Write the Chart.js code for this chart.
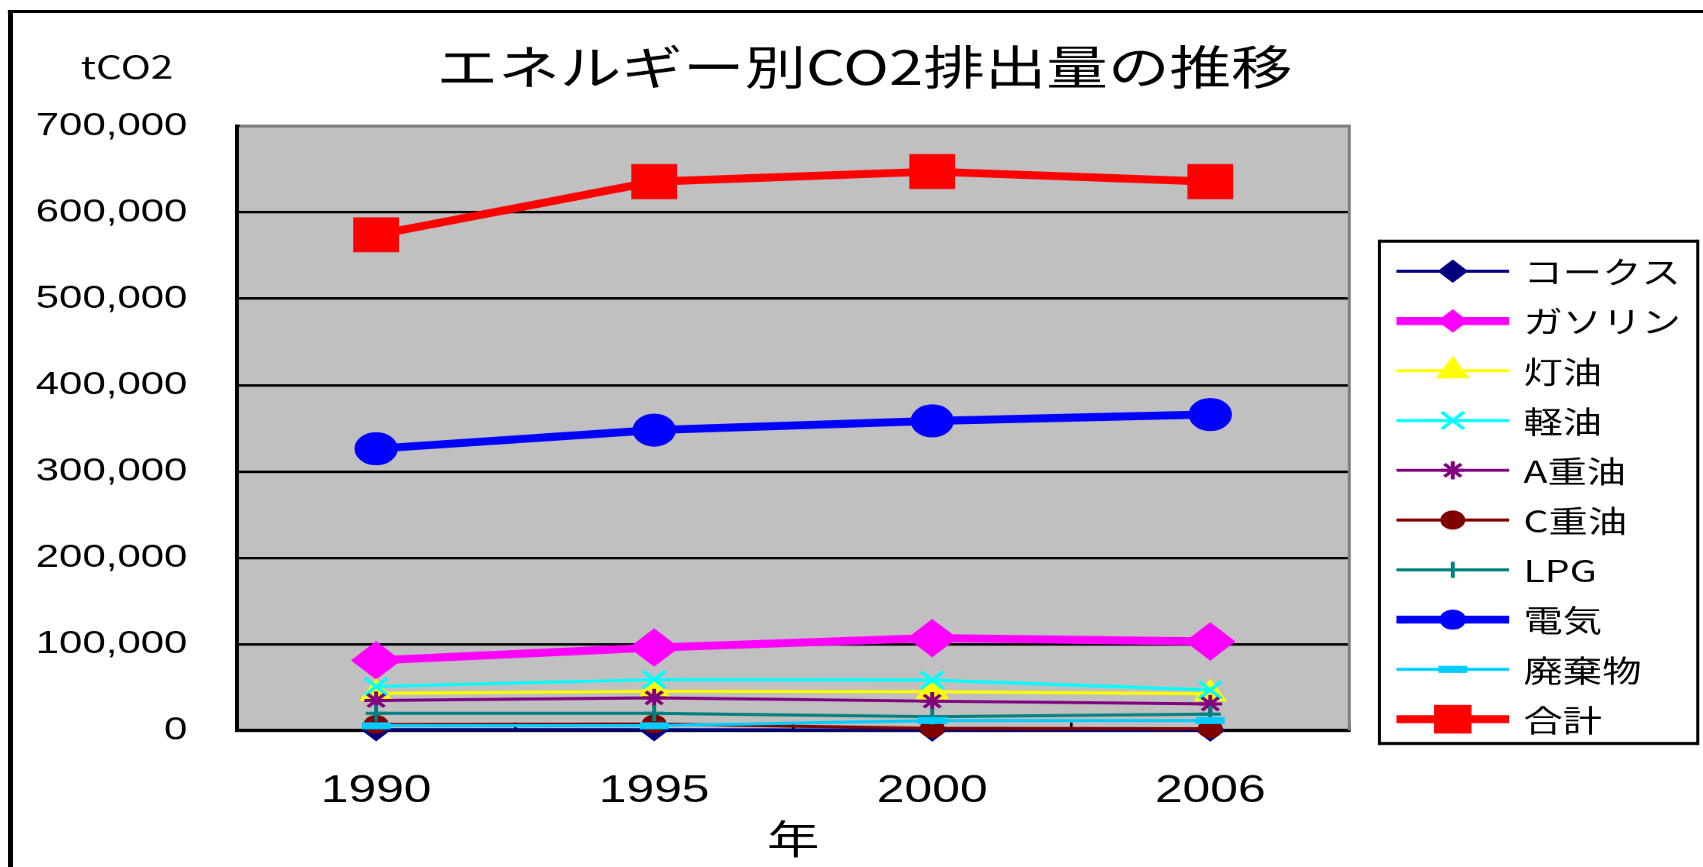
<!DOCTYPE html>
<html lang="ja">
<head>
<meta charset="utf-8">
<script src="https://cdn.jsdelivr.net/npm/chart.js@4.4.1/dist/chart.umd.min.js"></script>
<style>
  html, body { margin: 0; padding: 0; background: #fff; overflow: hidden; }
  #wrap { width: 1703px; height: 867px; overflow: hidden; }
  /* the chart is laid out narrow and widened horizontally */
  #chart { transform: scaleX(1.31); transform-origin: 0 0; }
</style>
</head>
<body>
<div id="wrap"><canvas id="chart" width="1300" height="867"></canvas></div>
<script>
// categories (years)
const years = ['1990', '1995', '2000', '2006'];

// CO2 emissions by energy source, tCO2
const coke        = [1000, 1000, 500, 500];
const gasoline    = [81300, 96100, 107000, 103100];
const kerosene    = [43000, 45500, 45000, 42500];
const lightOil    = [51000, 59000, 58500, 47000];
const heavyOilA   = [34700, 37800, 34000, 30800];
const heavyOilC   = [7000, 7500, 2500, 2000];
const lpg         = [20000, 20000, 16000, 19000];
const electricity = [326400, 347900, 358600, 366000];
const waste       = [5500, 5500, 11500, 11500];
const total       = [574000, 635700, 647300, 635700];

// value axis labels
const yTickLabels = ['0', '100,000', '200,000', '300,000', '400,000', '500,000', '600,000', '700,000'];

const seriesNames = ['コークス', 'ガソリン', '灯油', '軽油', 'A重油', 'C重油', 'LPG', '電気', '廃棄物', '合計'];
const seriesData = [coke, gasoline, kerosene, lightOil, heavyOilA, heavyOilC, lpg, electricity, waste, total];

// drawing styles per series (same order as seriesNames)
const seriesStyles = [
  { color: '#000080', width: 3, point: 'rectRot',  r: 11,   pbw: 1, legendR: 11 },
  { color: '#FF00FF', width: 8, point: 'rectRot',  r: 18.5, pbw: 1, legendR: 11 },
  { color: '#FFFF00', width: 3, point: 'triangle', r: 14,   pbw: 1, legendR: 14 },
  { color: '#00FFFF', width: 3, point: 'crossRot', r: 12,   pbw: 3, legendR: 12 },
  { color: '#800080', width: 3, point: 'star',     r: 9,    pbw: 3, legendR: 9 },
  { color: '#800000', width: 3, point: 'circle',   r: 9,    pbw: 1, legendR: 9 },
  { color: '#008080', width: 3, point: 'cross',    r: 8,    pbw: 3, legendR: 8 },
  { color: '#0000FF', width: 8, point: 'circle',   r: 16,   pbw: 1, legendR: 9.5 },
  { color: '#00CCFF', width: 3, point: 'line',     r: 11,   pbw: 7, legendR: 11 },
  { color: '#FF0000', width: 8, point: 'rect',     r: 24,   pbw: 1, legendR: 19.5 }
];

const n = seriesNames.length;
const datasets = seriesNames.map((name, i) => {
  const s = seriesStyles[i];
  return {
    label: name,
    data: seriesData[i],
    borderColor: s.color,
    backgroundColor: s.color,
    borderWidth: s.width,
    pointStyle: s.point,
    pointRadius: s.r,
    pointHoverRadius: s.r,
    pointBorderWidth: s.pbw,
    pointBackgroundColor: s.color,
    pointBorderColor: s.color,
    tension: 0,
    clip: false,
    order: n - i
  };
});

const jpFont = '"Noto Sans CJK JP", "Noto Sans", sans-serif';
const numFont = '"Liberation Sans", Arial, sans-serif';

const decorations = {
  id: 'decorations',
  beforeDraw(chart) {
    const { ctx, chartArea: a } = chart;
    ctx.save();
    ctx.fillStyle = '#ffffff';
    ctx.fillRect(0, 0, chart.width, chart.height);
    // outer frame (left and top edges)
    ctx.strokeStyle = '#000';
    ctx.lineWidth = 3.8;
    ctx.beginPath();
    ctx.moveTo(8, chart.height + 10);
    ctx.lineTo(8, 10);
    ctx.stroke();
    ctx.lineWidth = 3;
    ctx.beginPath();
    ctx.moveTo(6, 11.5);
    ctx.lineTo(chart.width + 10, 11.5);
    ctx.stroke();
    // plot area background
    ctx.fillStyle = '#C0C0C0';
    ctx.fillRect(a.left, a.top, a.right - a.left, a.bottom - a.top);
    ctx.restore();
  },
  beforeDatasetsDraw(chart) {
    const { ctx, chartArea: a } = chart;
    ctx.save();
    ctx.strokeStyle = '#808080';
    ctx.lineWidth = 3;
    ctx.beginPath();
    ctx.moveTo(a.left + 2, a.top);
    ctx.lineTo(a.right, a.top);
    ctx.stroke();
    ctx.lineWidth = 2.3;
    ctx.beginPath();
    ctx.moveTo(a.right, a.top - 1.5);
    ctx.lineTo(a.right, a.bottom);
    ctx.stroke();
    ctx.restore();
  },
  afterDraw(chart) {
    const { ctx } = chart;
    ctx.save();
    ctx.fillStyle = '#000';
    ctx.textBaseline = 'middle';
    // chart title
    ctx.textAlign = 'center';
    ctx.font = '47px ' + jpFont;
    ctx.fillText('エネルギー別CO2排出量の推移', 660, 67);
    // unit label
    ctx.font = '31px ' + jpFont;
    ctx.fillText('tCO2', 97, 67);

    // legend box
    const lx = 1053, rx = 1296, ty = 241, by = 743;
    ctx.strokeStyle = '#000';
    ctx.lineWidth = 3;
    ctx.beginPath();
    ctx.moveTo(lx, ty); ctx.lineTo(rx, ty);
    ctx.moveTo(lx, by); ctx.lineTo(rx, by);
    ctx.stroke();
    ctx.lineWidth = 2.3;
    ctx.beginPath();
    ctx.moveTo(lx, ty - 1.5); ctx.lineTo(lx, by + 1.5);
    ctx.moveTo(rx, ty - 1.5); ctx.lineTo(rx, by + 1.5);
    ctx.stroke();

    ctx.textAlign = 'left';
    ctx.font = '30px ' + jpFont;
    chart.data.datasets.forEach((ds, i) => {
      const s = seriesStyles[i];
      const y = 271 + i * 49.74;
      ctx.strokeStyle = s.color;
      ctx.fillStyle = s.color;
      ctx.lineWidth = s.width;
      ctx.beginPath();
      ctx.moveTo(1066, y);
      ctx.lineTo(1152, y);
      ctx.stroke();
      ctx.lineWidth = s.pbw;
      Chart.helpers.drawPoint(ctx, { pointStyle: s.point, radius: s.legendR, borderWidth: s.pbw, rotation: 0 }, 1109, y);
      ctx.fillStyle = '#000';
      ctx.fillText(ds.label, 1163, y + 1);
    });
    ctx.restore();
  }
};

new Chart(document.getElementById('chart'), {
  type: 'line',
  data: { labels: years, datasets },
  options: {
    responsive: false,
    devicePixelRatio: 1.31,
    animation: false,
    events: [],
    layout: { padding: { top: 126, right: 270, bottom: 0, left: 0 } },
    plugins: {
      legend: { display: false },
      title: { display: false },
      tooltip: { enabled: false }
    },
    scales: {
      x: {
        type: 'category',
        offset: true,
        grid: { offset: true, drawOnChartArea: false, drawTicks: true, tickLength: -8, color: '#000', lineWidth: 2 },
        border: { color: '#000', width: 3 },
        ticks: { color: '#000', font: { family: numFont, size: 38 }, padding: 46, maxRotation: 0, autoSkip: false },
        title: { display: true, text: '年', color: '#000', font: { family: jpFont, size: 40 }, padding: { top: 0, bottom: 5 } },
        afterFit(scale) { scale.height = 137; scale.paddingLeft = 0; scale.paddingRight = 0; }
      },
      y: {
        min: 0,
        max: 700000,
        ticks: {
          stepSize: 100000,
          color: '#000',
          font: { family: numFont, size: 32 },
          padding: 38,
          callback: (v, i) => yTickLabels[i]
        },
        grid: { color: '#000', lineWidth: 2.5, drawTicks: false },
        border: { color: '#000', width: 3 },
        afterFit(scale) { scale.width = 181; scale.paddingTop = 0; scale.paddingBottom = 0; }
      }
    }
  },
  plugins: [decorations]
});
</script>
</body>
</html>
